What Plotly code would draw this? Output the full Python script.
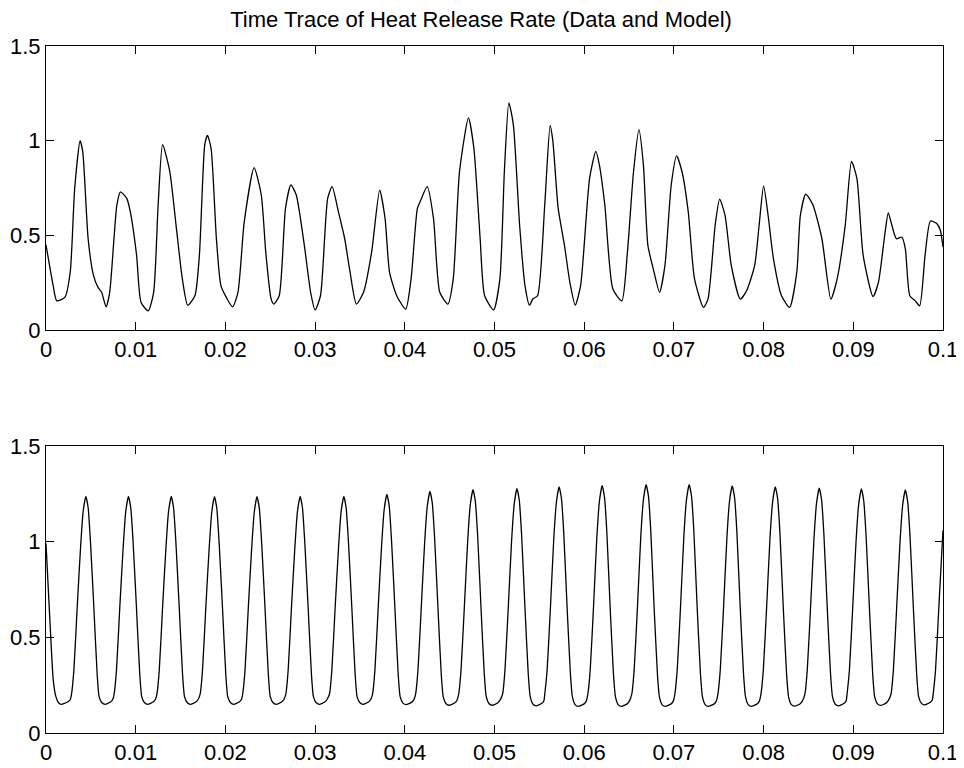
import plotly.graph_objects as go
from plotly.subplots import make_subplots

# ---- data (time in s, heat release rate) ----
data_t = [
    0.0000, 0.0008, 0.0012, 0.0021, 0.0027, 0.0032, 0.0038, 0.0041, 0.0047, 0.0053,
    0.0058, 0.0062, 0.0067, 0.0071, 0.0079, 0.0083, 0.0090, 0.0094, 0.0101, 0.0106,
    0.0114, 0.0120, 0.0125, 0.0130, 0.0138, 0.0145, 0.0152, 0.0158, 0.0166, 0.0171,
    0.0177, 0.0180, 0.0184, 0.0190, 0.0195, 0.0201, 0.0208, 0.0214, 0.0221, 0.0232,
    0.0240, 0.0245, 0.0251, 0.0254, 0.0260, 0.0267, 0.0273, 0.0279, 0.0288, 0.0295,
    0.0300, 0.0306, 0.0314, 0.0319, 0.0326, 0.0333, 0.0339, 0.0346, 0.0354, 0.0363,
    0.0372, 0.0378, 0.0383, 0.0391, 0.0401, 0.0407, 0.0414, 0.0417, 0.0425, 0.0432,
    0.0439, 0.0448, 0.0454, 0.0461, 0.0471, 0.0477, 0.0484, 0.0489, 0.0499, 0.0506,
    0.0511, 0.0516, 0.0521, 0.0528, 0.0534, 0.0539, 0.0543, 0.0548, 0.0556, 0.0562,
    0.0565, 0.0571, 0.0578, 0.0584, 0.0590, 0.0596, 0.0606, 0.0613, 0.0617, 0.0623,
    0.0632, 0.0642, 0.0648, 0.0655, 0.0661, 0.0666, 0.0671, 0.0677, 0.0684, 0.0690,
    0.0697, 0.0703, 0.0709, 0.0716, 0.0723, 0.0733, 0.0738, 0.0746, 0.0751, 0.0757,
    0.0764, 0.0774, 0.0781, 0.0790, 0.0795, 0.0800, 0.0805, 0.0811, 0.0820, 0.0829,
    0.0837, 0.0841, 0.0847, 0.0855, 0.0865, 0.0875, 0.0882, 0.0891, 0.0898, 0.0904,
    0.0911, 0.0922, 0.0928, 0.0935, 0.0939, 0.0943, 0.0948, 0.0954, 0.0958, 0.0963,
    0.0969, 0.0974, 0.0980, 0.0986, 0.0993, 0.0997, 0.1000,
]
data_hrr = [
    0.450, 0.234, 0.154, 0.172, 0.305, 0.748, 1.000, 0.940, 0.480, 0.287,
    0.225, 0.199, 0.122, 0.199, 0.660, 0.730, 0.695, 0.624, 0.394, 0.145,
    0.101, 0.199, 0.660, 0.979, 0.837, 0.553, 0.270, 0.131, 0.181, 0.394,
    0.979, 1.028, 0.960, 0.480, 0.234, 0.172, 0.122, 0.199, 0.571, 0.858,
    0.713, 0.411, 0.163, 0.137, 0.181, 0.642, 0.766, 0.713, 0.447, 0.199,
    0.106, 0.181, 0.695, 0.757, 0.624, 0.482, 0.305, 0.137, 0.199, 0.411,
    0.739, 0.589, 0.305, 0.181, 0.110, 0.270, 0.642, 0.677, 0.757, 0.589,
    0.199, 0.137, 0.270, 0.837, 1.120, 0.960, 0.482, 0.181, 0.106, 0.270,
    0.837, 1.200, 1.085, 0.553, 0.234, 0.131, 0.165, 0.181, 0.660, 1.080,
    1.000, 0.642, 0.447, 0.252, 0.131, 0.234, 0.801, 0.943, 0.870, 0.660,
    0.216, 0.154, 0.400, 0.837, 1.058, 0.872, 0.447, 0.323, 0.199, 0.340,
    0.766, 0.920, 0.837, 0.624, 0.270, 0.119, 0.163, 0.553, 0.691, 0.606,
    0.340, 0.163, 0.207, 0.340, 0.553, 0.761, 0.606, 0.376, 0.181, 0.119,
    0.305, 0.606, 0.718, 0.660, 0.482, 0.163, 0.270, 0.553, 0.890, 0.801,
    0.394, 0.177, 0.252, 0.500, 0.619, 0.553, 0.482, 0.491, 0.429, 0.181,
    0.154, 0.128, 0.394, 0.576, 0.562, 0.527, 0.438,
]

model_t = [
    0.00000, 0.00040, 0.00080, 0.00110, 0.00140, 0.00170, 0.00240, 0.00270,
    0.00285, 0.00311, 0.00348, 0.00385, 0.00414,
    0.00444, 0.00470, 0.00496, 0.00533, 0.00570, 0.00592, 0.00624, 0.00659, 0.00719, 0.00744,
    0.00760, 0.00786, 0.00823, 0.00860, 0.00889,
    0.00919, 0.00945, 0.00971, 0.01008, 0.01045, 0.01067, 0.01099, 0.01134, 0.01194, 0.01219,
    0.01237, 0.01263, 0.01300, 0.01337, 0.01366,
    0.01396, 0.01422, 0.01448, 0.01485, 0.01522, 0.01544, 0.01576, 0.01611, 0.01671, 0.01696,
    0.01719, 0.01745, 0.01782, 0.01819, 0.01848,
    0.01878, 0.01904, 0.01930, 0.01967, 0.02004, 0.02026, 0.02058, 0.02093, 0.02153, 0.02178,
    0.02193, 0.02219, 0.02256, 0.02293, 0.02322,
    0.02352, 0.02378, 0.02404, 0.02441, 0.02478, 0.02500, 0.02532, 0.02567, 0.02627, 0.02652,
    0.02674, 0.02700, 0.02737, 0.02774, 0.02803,
    0.02833, 0.02859, 0.02885, 0.02922, 0.02959, 0.02981, 0.03013, 0.03048, 0.03108, 0.03133,
    0.03161, 0.03187, 0.03224, 0.03261, 0.03290,
    0.03320, 0.03346, 0.03372, 0.03409, 0.03446, 0.03468, 0.03500, 0.03535, 0.03595, 0.03620,
    0.03641, 0.03667, 0.03704, 0.03741, 0.03770,
    0.03800, 0.03826, 0.03852, 0.03889, 0.03926, 0.03948, 0.03980, 0.04015, 0.04075, 0.04100,
    0.04121, 0.04147, 0.04184, 0.04221, 0.04250,
    0.04280, 0.04306, 0.04332, 0.04369, 0.04406, 0.04428, 0.04460, 0.04495, 0.04555, 0.04580,
    0.04601, 0.04627, 0.04664, 0.04701, 0.04730,
    0.04760, 0.04786, 0.04812, 0.04849, 0.04886, 0.04908, 0.04940, 0.04975, 0.05035, 0.05060,
    0.05091, 0.05117, 0.05154, 0.05191, 0.05220,
    0.05250, 0.05276, 0.05302, 0.05339, 0.05376, 0.05398, 0.05430, 0.05465, 0.05525, 0.05550,
    0.05561, 0.05587, 0.05624, 0.05661, 0.05690,
    0.05720, 0.05746, 0.05772, 0.05809, 0.05846, 0.05868, 0.05900, 0.05935, 0.05995, 0.06020,
    0.06041, 0.06067, 0.06104, 0.06141, 0.06170,
    0.06200, 0.06226, 0.06252, 0.06289, 0.06326, 0.06348, 0.06380, 0.06415, 0.06475, 0.06500,
    0.06531, 0.06557, 0.06594, 0.06631, 0.06660,
    0.06690, 0.06716, 0.06742, 0.06779, 0.06816, 0.06838, 0.06870, 0.06905, 0.06965, 0.06990,
    0.07011, 0.07037, 0.07074, 0.07111, 0.07140,
    0.07170, 0.07196, 0.07222, 0.07259, 0.07296, 0.07318, 0.07350, 0.07385, 0.07445, 0.07470,
    0.07491, 0.07517, 0.07554, 0.07591, 0.07620,
    0.07650, 0.07676, 0.07702, 0.07739, 0.07776, 0.07798, 0.07830, 0.07865, 0.07925, 0.07950,
    0.07971, 0.07997, 0.08034, 0.08071, 0.08100,
    0.08130, 0.08156, 0.08182, 0.08219, 0.08256, 0.08278, 0.08310, 0.08345, 0.08405, 0.08430,
    0.08461, 0.08487, 0.08524, 0.08561, 0.08590,
    0.08620, 0.08646, 0.08672, 0.08709, 0.08746, 0.08768, 0.08800, 0.08835, 0.08895, 0.08920,
    0.08931, 0.08957, 0.08994, 0.09031, 0.09060,
    0.09090, 0.09116, 0.09142, 0.09179, 0.09216, 0.09238, 0.09270, 0.09305, 0.09365, 0.09390,
    0.09421, 0.09447, 0.09484, 0.09521, 0.09550,
    0.09580, 0.09606, 0.09632, 0.09669, 0.09706, 0.09728, 0.09760, 0.09795, 0.09855, 0.09880,
    0.09891, 0.09917, 0.09954, 0.10000,
]
model_hrr = [
    0.990, 0.620, 0.280, 0.190, 0.158, 0.150, 0.162, 0.175,
    0.205, 0.330, 0.660, 0.967, 1.157,
    1.237, 1.177, 0.997, 0.660, 0.310, 0.190, 0.158, 0.150, 0.162, 0.175,
    0.205, 0.330, 0.660, 0.967, 1.157,
    1.237, 1.177, 0.997, 0.660, 0.310, 0.190, 0.158, 0.150, 0.162, 0.175,
    0.205, 0.330, 0.660, 0.967, 1.157,
    1.237, 1.177, 0.997, 0.660, 0.310, 0.190, 0.158, 0.150, 0.162, 0.175,
    0.205, 0.330, 0.660, 0.965, 1.155,
    1.235, 1.175, 0.995, 0.660, 0.310, 0.190, 0.158, 0.150, 0.162, 0.175,
    0.205, 0.330, 0.660, 0.965, 1.155,
    1.235, 1.175, 0.995, 0.660, 0.310, 0.190, 0.158, 0.150, 0.162, 0.175,
    0.205, 0.330, 0.660, 0.967, 1.157,
    1.237, 1.177, 0.997, 0.660, 0.310, 0.190, 0.158, 0.150, 0.162, 0.175,
    0.205, 0.330, 0.660, 0.967, 1.157,
    1.237, 1.177, 0.997, 0.660, 0.310, 0.190, 0.158, 0.150, 0.162, 0.175,
    0.205, 0.330, 0.660, 0.977, 1.167,
    1.247, 1.187, 1.007, 0.660, 0.310, 0.190, 0.156, 0.148, 0.160, 0.173,
    0.205, 0.330, 0.660, 0.993, 1.183,
    1.263, 1.203, 1.023, 0.660, 0.310, 0.190, 0.153, 0.145, 0.157, 0.170,
    0.205, 0.330, 0.660, 1.002, 1.192,
    1.272, 1.212, 1.032, 0.660, 0.310, 0.190, 0.153, 0.145, 0.157, 0.170,
    0.205, 0.330, 0.660, 1.007, 1.197,
    1.277, 1.217, 1.037, 0.660, 0.310, 0.190, 0.150, 0.142, 0.154, 0.167,
    0.205, 0.330, 0.660, 1.016, 1.206,
    1.286, 1.226, 1.046, 0.660, 0.310, 0.190, 0.147, 0.139, 0.151, 0.164,
    0.205, 0.330, 0.660, 1.023, 1.213,
    1.293, 1.233, 1.053, 0.660, 0.310, 0.190, 0.147, 0.139, 0.151, 0.164,
    0.205, 0.330, 0.660, 1.028, 1.218,
    1.298, 1.238, 1.058, 0.660, 0.310, 0.190, 0.147, 0.139, 0.151, 0.164,
    0.205, 0.330, 0.660, 1.028, 1.218,
    1.298, 1.238, 1.058, 0.660, 0.310, 0.190, 0.147, 0.139, 0.151, 0.164,
    0.205, 0.330, 0.660, 1.021, 1.211,
    1.291, 1.231, 1.051, 0.660, 0.310, 0.190, 0.147, 0.139, 0.151, 0.164,
    0.205, 0.330, 0.660, 1.016, 1.206,
    1.286, 1.226, 1.046, 0.660, 0.310, 0.190, 0.148, 0.140, 0.152, 0.165,
    0.205, 0.330, 0.660, 1.010, 1.200,
    1.280, 1.220, 1.040, 0.660, 0.310, 0.190, 0.150, 0.142, 0.154, 0.167,
    0.205, 0.330, 0.660, 1.005, 1.195,
    1.275, 1.215, 1.035, 0.660, 0.310, 0.190, 0.152, 0.144, 0.156, 0.169,
    0.205, 0.330, 0.660, 1.000, 1.190,
    1.270, 1.210, 1.030, 0.660, 0.310, 0.190, 0.155, 0.147, 0.159, 0.172,
    0.205, 0.330, 0.660, 1.060,
]

x_ticks = [0, 0.01, 0.02, 0.03, 0.04, 0.05, 0.06, 0.07, 0.08, 0.09, 0.1]
x_labels = ["0", "0.01", "0.02", "0.03", "0.04", "0.05", "0.06", "0.07", "0.08", "0.09", "0.1"]
y_ticks = [0, 0.5, 1, 1.5]
y_labels = ["0", "0.5", "1", "1.5"]

title_text = "Time Trace of Heat Release Rate (Data and Model)"

# ---- figure ----
# the page puts the plot 8px in from the top-left corner (body margin),
# so the figure is 8px smaller and its left/top margins trimmed to match
fig = make_subplots(rows=2, cols=1, vertical_spacing=0.0)

fig.add_trace(go.Scatter(x=data_t, y=data_hrr, mode="lines",
                         line=dict(color="black", width=1.3, shape="spline", smoothing=0.6),
                         showlegend=False),
              row=1, col=1)
fig.add_trace(go.Scatter(x=model_t, y=model_hrr, mode="lines",
                         line=dict(color="black", width=1.3, shape="spline", smoothing=0.5),
                         showlegend=False),
              row=2, col=1)

font_family = "Liberation Sans, Arial, Helvetica, sans-serif"

axis_style = dict(showline=True, linecolor="black", linewidth=1, mirror="ticks",
                  ticks="inside", ticklen=8, tickcolor="black", tickwidth=1,
                  showgrid=False, zeroline=False, automargin=False,
                  tickfont=dict(family=font_family, size=22, color="black"))

fig.update_xaxes(range=[0, 0.1], tickvals=x_ticks, ticktext=x_labels, **axis_style)
fig.update_yaxes(range=[0, 1.5], tickvals=y_ticks, ticktext=y_labels, **axis_style)

fig.update_layout(
    width=956, height=760,
    margin=dict(l=38, r=21, t=38, b=35),
    paper_bgcolor="white", plot_bgcolor="white",
    font=dict(family=font_family, color="black"),
    title=dict(text=title_text, x=0.485, xref="paper", xanchor="center",
               y=1 - 11 / 760, yref="container", yanchor="middle",
               font=dict(family=font_family, size=22, color="black")),
    yaxis=dict(domain=[0.5866, 1.0]),
    yaxis2=dict(domain=[0.0, 0.4178]),
)

fig.write_html("out.html")
